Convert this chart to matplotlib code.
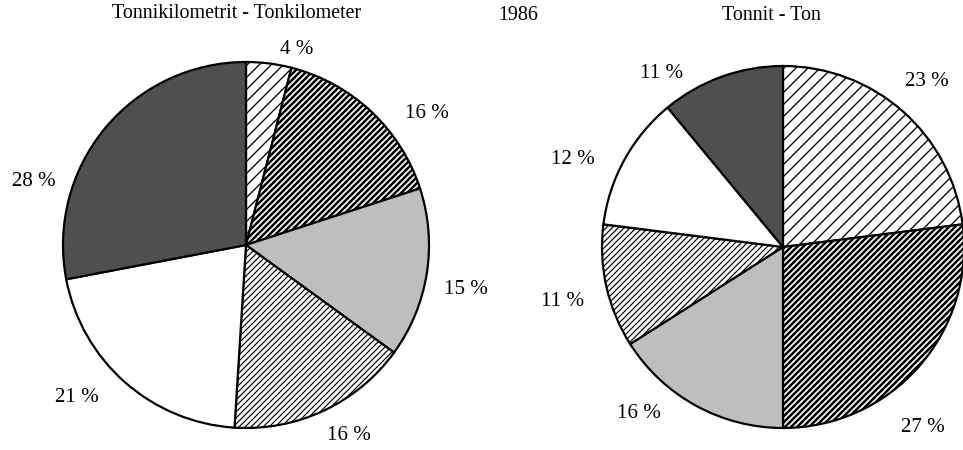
import matplotlib
matplotlib.use("Agg")
import matplotlib.pyplot as plt

# ---- data ----
left_title = "Tonnikilometrit - Tonkilometer"
right_title = "Tonnit - Ton"
year_label = "1986"
left_values = [4, 16, 15, 16, 21, 28]
right_values = [23, 27, 16, 11, 12, 11]

# ---- styles per category (same order in both pies) ----
cat_face = ["white", "white", "#bebebe", "white", "white", "#4f4f4f"]
cat_hatch = ["//", "////", None, "////", None, None]
cat_hatch_lw = [1.3, 2.5, 1.0, 1.2, 1.0, 1.0]

# ---- layout (pixels, origin top-left) ----
W, H = 963, 450
left_center = (246, 245)
left_radius = 183
right_center = (783, 247)
right_radius = 181
left_label_pos = [(297, 50), (427, 113), (466, 289), (349, 436), (77, 397), (34, 182)]
right_label_pos = [(927, 81), (923, 427), (639, 414), (563, 302), (573, 159), (662, 73)]
title_pos = {"left": (237, 13), "year": (518, 15), "right": (771, 15)}

plt.rcParams["hatch.color"] = "black"
DPI = 72
fig = plt.figure(figsize=(W / DPI, H / DPI), dpi=DPI)
ax = fig.add_axes([0, 0, 1, 1])

serif = ["Liberation Serif", "DejaVu Serif"]


def draw(values, center, radius, label_pos):
    wedges, _ = ax.pie(values, center=(center[0], H - center[1]), radius=radius,
                       startangle=90, counterclock=False,
                       wedgeprops=dict(edgecolor="black", linewidth=2.2))
    for i, w in enumerate(wedges):
        w.set_facecolor(cat_face[i])
        if cat_hatch[i]:
            w.set_hatch(cat_hatch[i])
            if hasattr(w, "set_hatch_linewidth"):
                w.set_hatch_linewidth(cat_hatch_lw[i])
    for v, (x, y) in zip(values, label_pos):
        ax.text(x, H - y, f"{v} %", ha="center", va="center",
                fontsize=21, family=serif)


draw(left_values, left_center, left_radius, left_label_pos)
draw(right_values, right_center, right_radius, right_label_pos)

ax.text(title_pos["left"][0], H - title_pos["left"][1], left_title,
        ha="center", va="center", fontsize=20, family=serif)
ax.text(title_pos["year"][0], H - title_pos["year"][1], year_label,
        ha="center", va="center", fontsize=20, family=serif)
ax.text(title_pos["right"][0], H - title_pos["right"][1], right_title,
        ha="center", va="center", fontsize=20, family=serif)

ax.set_xlim(0, W)
ax.set_ylim(0, H)
ax.set_aspect("auto")
ax.axis("off")

fig.savefig("out.png", dpi=DPI, facecolor="white")
